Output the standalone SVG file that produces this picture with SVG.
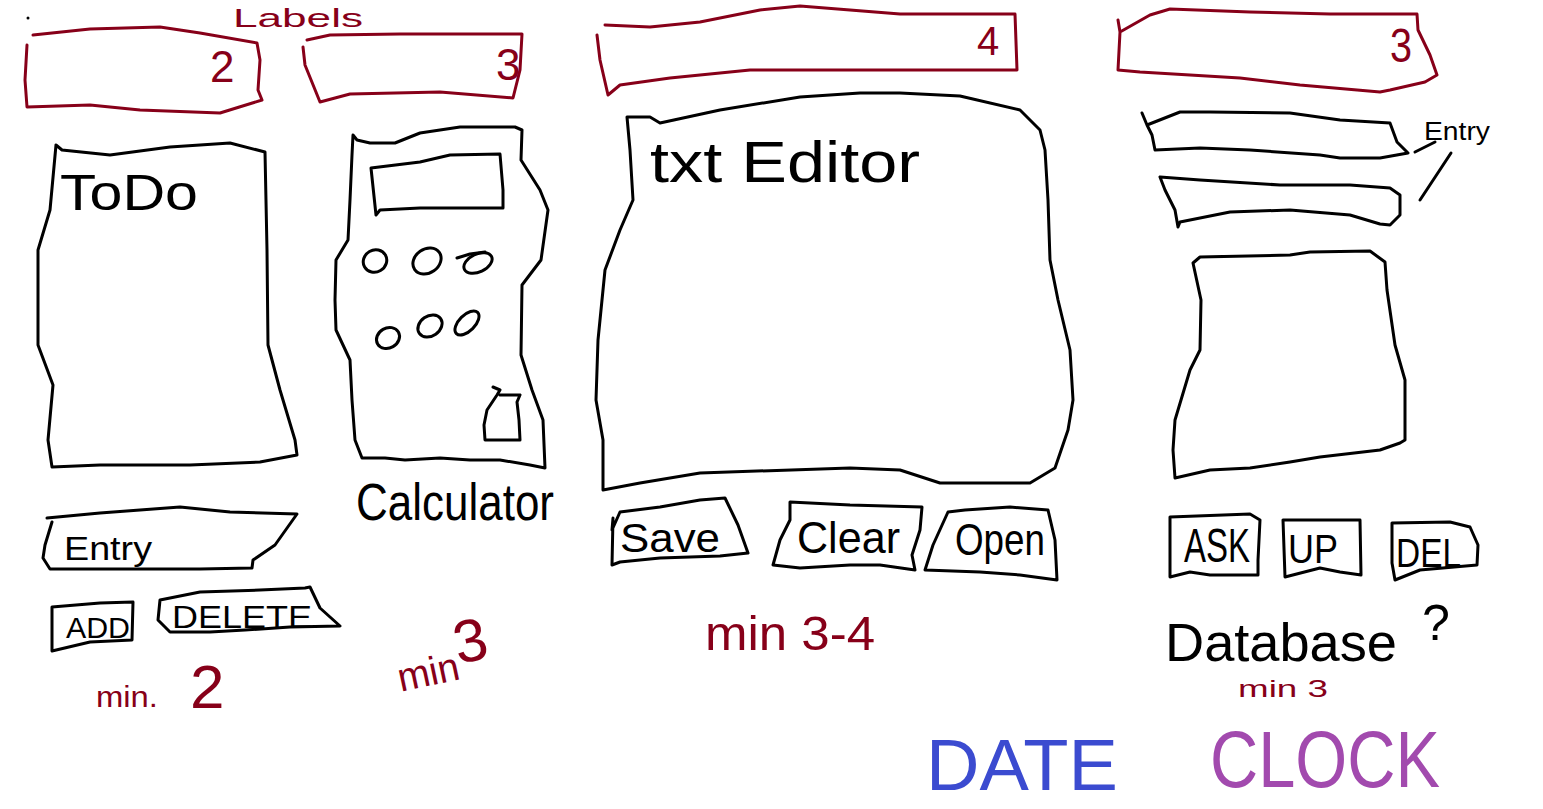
<svg xmlns="http://www.w3.org/2000/svg" width="1543" height="809" viewBox="0 0 1543 809">
<style>
.k{fill:none;stroke:#000;stroke-width:3;stroke-linejoin:round;stroke-linecap:round}
.r{fill:none;stroke:#870019;stroke-width:3;stroke-linejoin:round;stroke-linecap:round}
.t{font-family:"Liberation Sans",Arial,sans-serif;fill:#000}
.tr{font-family:"Liberation Sans",Arial,sans-serif;fill:#870019}
</style>
<rect width="1543" height="809" fill="#fff"/>
<circle cx="28" cy="18" r="1.5" fill="#000"/>

<g id="labels-title"><text class="tr" x="233" y="27" font-size="26" textLength="130" lengthAdjust="spacingAndGlyphs">Labels</text></g>

<g id="label-todo">
<path class="r" d="M33,35 L90,29 L160,27 L200,33 L257,43 L260,60 L258,90 L262,100 L220,113 L140,110 L90,105 L27,107 L25,80 L27,45"/>
<text class="tr" x="210" y="82" font-size="44">2</text>
</g>
<g id="label-calc">
<path class="r" d="M307,40 L330,35 L400,34 L500,34 L522,34 L520,70 L513,98 L440,92 L350,94 L320,102 L305,65 L303,47"/>
<text class="tr" x="496" y="80" font-size="44">3</text>
</g>
<g id="label-editor">
<path class="r" d="M605,25 L650,27 L700,22 L760,10 L800,6 L850,10 L900,14 L1015,14 L1017,70 L950,70 L750,70 L670,78 L620,85 L608,95 L600,60 L597,35"/>
<text class="tr" x="977" y="55" font-size="40">4</text>
</g>
<g id="label-db">
<path class="r" d="M1118,20 L1120,32 L1150,15 L1170,9 L1250,12 L1330,14 L1417,14 L1418,30 L1430,55 L1437,75 L1425,82 L1390,90 L1380,92 L1300,85 L1240,78 L1140,72 L1118,70 L1120,32"/>
<text class="tr" x="1390" y="62" font-size="48" textLength="22" lengthAdjust="spacingAndGlyphs">3</text>
</g>

<g id="todo">
<path class="k" d="M56,145 L62,150 L110,155 L170,147 L230,143 L265,152 L267,250 L268,345 L280,390 L295,440 L297,455 L260,462 L190,465 L100,465 L52,467 L48,440 L53,385 L38,345 L38,250 L50,210 L56,145"/>
<text class="t" x="60" y="210" font-size="50" textLength="138" lengthAdjust="spacingAndGlyphs">ToDo</text>
</g>
<g id="todo-entry">
<path class="k" d="M47,518 L100,513 L180,507 L230,512 L297,514 L275,545 L253,560 L252,568 L200,569 L50,569 L43,558 L45,545 L52,522"/>
<text class="t" x="64" y="560" font-size="34" textLength="88" lengthAdjust="spacingAndGlyphs">Entry</text>
</g>
<g id="todo-add">
<path class="k" d="M52,607 L100,603 L133,602 L132,640 L90,642 L52,651 Z"/>
<text class="t" x="66" y="638" font-size="30" textLength="64" lengthAdjust="spacingAndGlyphs">ADD</text>
</g>
<g id="todo-delete">
<path class="k" d="M160,600 L200,592 L260,590 L305,588 L310,587 L320,608 L340,626 L290,627 L245,630 L210,632 L170,632 L158,620 Z"/>
<text class="t" x="172" y="628" font-size="32" textLength="140" lengthAdjust="spacingAndGlyphs">DELETE</text>
</g>
<g id="todo-min">
<text class="tr" x="96" y="707" font-size="30" textLength="62" lengthAdjust="spacingAndGlyphs">min.</text>
<text class="tr" x="190" y="708" font-size="62">2</text>
</g>

<g id="calculator">
<path class="k" d="M353,135 L357,140 L370,143 L395,143 L420,133 L460,127 L515,127 L522,130 L521,160 L540,190 L548,210 L541,260 L522,285 L521,355 L532,390 L543,420 L545,468 L530,465 L500,460 L470,460 L440,458 L405,460 L385,458 L362,458 L355,440 L352,400 L350,360 L336,330 L335,300 L336,260 L348,240 L350,200 L352,155 Z"/>
<path class="k" d="M371,168 L420,162 L450,155 L500,154 L503,190 L503,208 L480,208 L420,208 L380,210 L376,215 Z"/>
<ellipse class="k" cx="375" cy="261" rx="12" ry="11" transform="rotate(-30 375 261)"/>
<ellipse class="k" cx="427" cy="261" rx="15" ry="12" transform="rotate(-35 427 261)"/>
<ellipse class="k" cx="478" cy="263" rx="15" ry="9" transform="rotate(-25 478 263)"/>
<path class="k" d="M457,258 L470,254 L485,252"/>
<ellipse class="k" cx="388" cy="338" rx="12" ry="10" transform="rotate(-30 388 338)"/>
<ellipse class="k" cx="430" cy="326" rx="13" ry="10" transform="rotate(-35 430 326)"/>
<ellipse class="k" cx="467" cy="323" rx="15" ry="8" transform="rotate(-45 467 323)"/>
<path class="k" d="M493,387 L500,390 L497,395 L487,410 L484,425 L485,440 L520,440 L519,420 L517,402 L520,395 L500,395"/>
<text class="t" x="356" y="520" font-size="52" textLength="198" lengthAdjust="spacingAndGlyphs">Calculator</text>
</g>
<g id="calc-min">
<g transform="rotate(-12 440 660)">
<text class="tr" x="395" y="683" font-size="40" textLength="62" lengthAdjust="spacingAndGlyphs">min</text>
<text class="tr" x="457" y="668" font-size="60">3</text>
</g>
</g>

<g id="editor">
<path class="k" d="M627,117 L650,117 L660,123 L720,110 L800,97 L860,93 L900,93 L960,96 L1020,110 L1040,130 L1045,150 L1048,200 L1050,260 L1058,300 L1070,350 L1073,400 L1068,430 L1055,468 L1030,483 L940,483 L900,470 L850,468 L700,473 L640,483 L603,490 L603,440 L596,400 L598,340 L605,270 L620,230 L633,200 L630,150 Z"/>
<text class="t" x="650" y="182" font-size="58" textLength="270" lengthAdjust="spacingAndGlyphs">txt Editor</text>
</g>
<g id="editor-save">
<path class="k" d="M613,518 L612,530 L620,512 L660,507 L700,500 L725,498 L738,525 L748,553 L720,556 L660,558 L620,562 L612,565 Z"/>
<text class="t" x="620" y="552" font-size="40" textLength="100" lengthAdjust="spacingAndGlyphs">Save</text>
</g>
<g id="editor-clear">
<path class="k" d="M790,502 L850,505 L922,507 L920,530 L912,555 L915,570 L880,565 L850,565 L800,568 L773,565 L780,540 L790,520 Z"/>
<text class="t" x="797" y="553" font-size="44" textLength="103" lengthAdjust="spacingAndGlyphs">Clear</text>
</g>
<g id="editor-open">
<path class="k" d="M948,512 L965,510 L1010,507 L1048,510 L1055,540 L1057,580 L1020,575 L980,572 L925,570 L933,545 Z"/>
<text class="t" x="955" y="555" font-size="44" textLength="90" lengthAdjust="spacingAndGlyphs">Open</text>
</g>
<g id="editor-min"><text class="tr" x="705" y="650" font-size="48" textLength="170" lengthAdjust="spacingAndGlyphs">min 3-4</text></g>

<g id="db-entry1"><path class="k" d="M1142,113 L1147,125 L1180,112 L1210,112 L1290,113 L1340,120 L1390,123 L1397,142 L1408,153 L1380,158 L1340,158 L1320,155 L1250,150 L1200,148 L1155,150 L1152,135 L1147,125"/></g>
<g id="db-entry2"><path class="k" d="M1160,177 L1200,180 L1280,185 L1350,185 L1390,188 L1400,195 L1400,215 L1390,225 L1380,224 L1350,215 L1290,210 L1230,212 L1180,222 L1178,227 L1175,210 L1165,190 Z"/></g>
<g id="db-entry-label"><text class="t" x="1424" y="140" font-size="26" textLength="66" lengthAdjust="spacingAndGlyphs">Entry</text></g>
<g id="connectors">
<path class="k" d="M1415,152 L1435,142"/>
<path class="k" d="M1451,153 L1420,200"/>
</g>
<g id="db-list"><path class="k" d="M1193,263 L1200,257 L1290,255 L1310,252 L1370,251 L1385,262 L1387,290 L1395,345 L1405,380 L1405,440 L1400,443 L1380,450 L1320,457 L1290,462 L1250,468 L1210,470 L1175,478 L1173,450 L1175,420 L1190,370 L1200,350 L1201,300 Z"/></g>
<g id="db-ask">
<path class="k" d="M1170,517 L1250,514 L1260,520 L1258,560 L1258,575 L1210,575 L1190,572 L1170,577 Z"/>
<text class="t" x="1184" y="562" font-size="48" textLength="66" lengthAdjust="spacingAndGlyphs">ASK</text>
</g>
<g id="db-up">
<path class="k" d="M1283,520 L1360,520 L1361,575 L1340,572 L1320,568 L1285,577 Z"/>
<text class="t" x="1288" y="563" font-size="40" textLength="50" lengthAdjust="spacingAndGlyphs">UP</text>
</g>
<g id="db-del">
<path class="k" d="M1392,523 L1450,522 L1470,527 L1478,545 L1477,565 L1420,570 L1395,580 L1392,563 Z"/>
<text class="t" x="1396" y="567" font-size="40" textLength="65" lengthAdjust="spacingAndGlyphs">DEL</text>
</g>
<g id="db-title">
<text class="t" x="1165" y="661" font-size="54" textLength="232" lengthAdjust="spacingAndGlyphs">Database</text>
<text class="t" x="1422" y="640" font-size="50">?</text>
</g>
<g id="db-min"><text class="tr" x="1238" y="697" font-size="24" textLength="90" lengthAdjust="spacingAndGlyphs">min 3</text></g>

<g id="date"><text x="926" y="790" font-size="72" textLength="192" lengthAdjust="spacingAndGlyphs" font-family="Liberation Sans, Arial, sans-serif" fill="#3b4bd0">DATE</text></g>
<g id="clock"><text x="1210" y="787" font-size="80" textLength="230" lengthAdjust="spacingAndGlyphs" font-family="Liberation Sans, Arial, sans-serif" fill="#a24aae">CLOCK</text></g>
</svg>
